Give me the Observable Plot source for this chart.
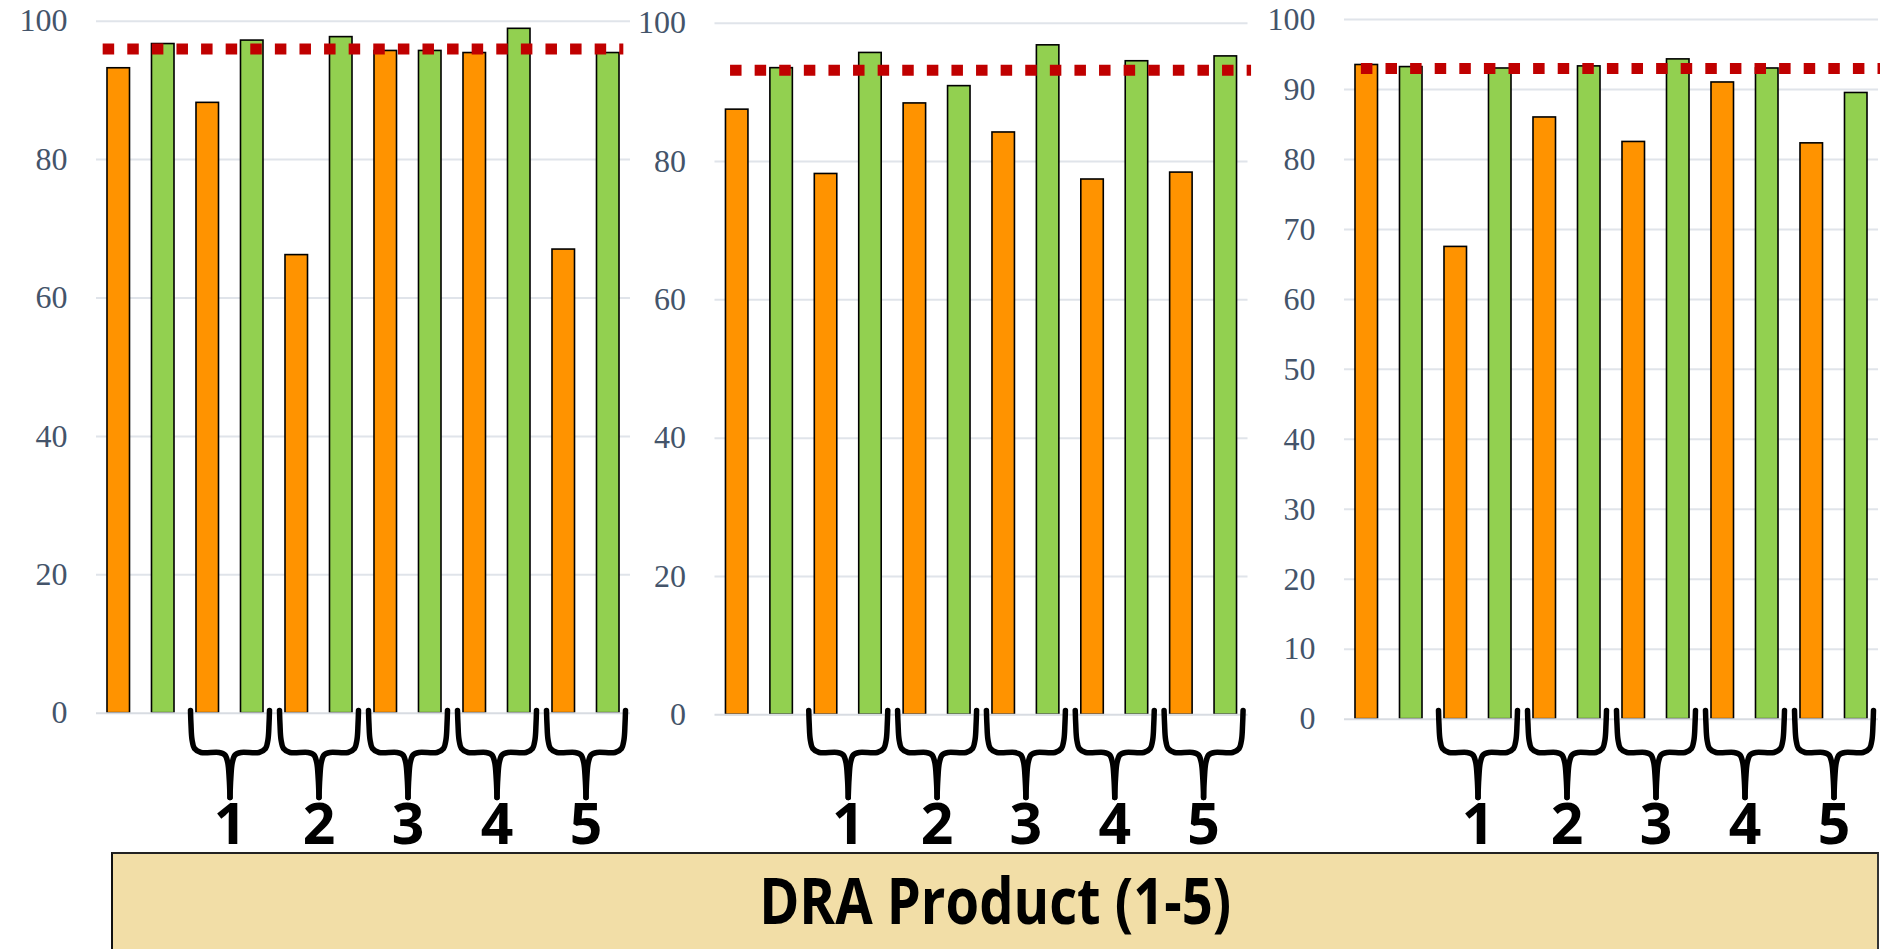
<!DOCTYPE html>
<html><head><meta charset="utf-8">
<script src="https://cdn.jsdelivr.net/npm/d3@7"></script>
<script src="https://cdn.jsdelivr.net/npm/@observablehq/plot@0.6"></script>
<style>
html,body{margin:0;padding:0;background:#fff;overflow:hidden}
#wrap{position:relative;width:1880px;height:949px}
.panel{position:absolute;top:0}
.panel svg{overflow:visible;display:block}
#caption{position:absolute;left:111px;top:852px;width:1768px;height:100px;background:#F2DEA7;border-top:2px solid #222;border-left:2px solid #111;border-right:2px solid #333;box-sizing:border-box;text-align:center}
#captext{font-family:"Open Sans";font-weight:700;font-size:64px;line-height:64px;color:#000;display:inline-block;white-space:nowrap;position:relative;top:14px;transform-origin:50% 50%}
</style></head><body>
<div id="wrap">
  <div id="p1" class="panel"></div>
  <div id="p2" class="panel"></div>
  <div id="p3" class="panel"></div>
  <div id="caption"><span id="captext">DRA Product (1-5)</span></div>
</div>
<script>
// ---- data ----
const pairLabels = ["", "1", "2", "3", "4", "5"];   // first pair has no product label
const products = ["1", "2", "3", "4", "5"];
const seriesNames = ["Series A", "Series B"];
const seriesColors = ["#FF9300", "#92D050"];

const orange1 = [93.2, 88.2, 66.2, 95.7, 95.4, 67.0];
const green1  = [96.7, 97.2, 97.7, 95.7, 98.9, 95.4];
const orange2 = [87.5, 78.2, 88.4, 84.2, 77.4, 78.4];
const green2  = [93.5, 95.7, 90.9, 96.8, 94.5, 95.2];
const orange3 = [93.5, 67.5, 86.0, 82.5, 91.0, 82.3];
const green3  = [93.2, 93.0, 93.3, 94.3, 93.0, 89.5];
const thresholds = [96.0, 93.2, 93.0];

const ticks1 = [0, 20, 40, 60, 80, 100];
const ticks2 = [0, 20, 40, 60, 80, 100];
const ticks3 = [0, 10, 20, 30, 40, 50, 60, 70, 80, 90, 100];

// ---- layout (pixels) ----
const H = 852;
const layouts = [
  {id: "p1", left: 0,    width: 640, mL: 96,   mR: 10,   top: 20.7, zero: 712.7, ticks: ticks1, o: orange1, g: green1, thr: thresholds[0], rule: [-0.35, 11.35]},
  {id: "p2", left: 620,  width: 640, mL: 94.5, mR: 12.5, top: 22.7, zero: 714.3, ticks: ticks2, o: orange2, g: green2, thr: thresholds[1], rule: [-0.15, 11.58]},
  {id: "p3", left: 1240, width: 640, mL: 104,  mR: 2,    top: 19.0, zero: 718.7, ticks: ticks3, o: orange3, g: green3, thr: thresholds[2], rule: [-0.12, 11.55]}
];
// brace shape: [dx from pair centre (left half), absolute page y]
const braceHalf = [[-39.5, 710], [-39, 724], [-38, 739], [-35.5, 748], [-29, 752], [-11, 752], [-5, 754.5], [-2.3, 762], [-0.8, 778], [0, 797]];
const numberY = 825;
const halfBar = 0.253;

for (const L of layouts) {
  const pxPerUnit = (L.zero - L.top) / 100;
  const pxPerSlot = (L.width - L.mL - L.mR) / 12;
  const toY = py => (L.zero - py) / pxPerUnit;

  const bars = [];
  pairLabels.forEach((lab, k) => {
    bars.push({series: seriesNames[0], idx: 2 * k,     value: L.o[k]});
    bars.push({series: seriesNames[1], idx: 2 * k + 1, value: L.g[k]});
  });
  const braces = [];
  const nums = [];
  products.forEach((p, j) => {
    const c = 2 * (j + 1) + 0.5;
    for (const side of [-1, 1]) {
      for (const [dx, py] of braceHalf) {
        braces.push({id: p + "_" + side, x: c + (side === -1 ? dx : -dx) / pxPerSlot, y: toY(py)});
      }
    }
    nums.push({label: p, x: c, y: toY(numberY)});
  });

  const marks = [
    Plot.ruleY(L.ticks.filter(t => t > 0), {stroke: "#E0E4EA", strokeWidth: 2}),
    Plot.rectY(bars, {x1: d => d.idx - halfBar, x2: d => d.idx + halfBar, y1: 0, y2: "value", fill: "series", stroke: "#000", strokeWidth: 1.6}),
    Plot.ruleY([0], {stroke: "#D8DCE2", strokeWidth: 2}),
    Plot.ruleY([{y: L.thr, a: L.rule[0], b: L.rule[1]}], {y: "y", x1: "a", x2: "b", stroke: "#C00000", strokeWidth: 11, strokeDasharray: "11.5 13.1"}),
    Plot.line(braces, {x: "x", y: "y", z: "id", stroke: "#000", strokeWidth: 5.5, curve: "catmull-rom", strokeLinecap: "round", strokeLinejoin: "round"}),
    Plot.text(nums, {x: "x", y: "y", text: "label", fontFamily: "Open Sans", fontWeight: 700, fontSize: 57, fill: "#000"})
  ];
  const useAxisMark = typeof Plot.axisY === "function";
  if (useAxisMark) {
    marks.push(Plot.axisY({ticks: L.ticks, tickSize: 0, tickPadding: 29, fontSize: 32, fontFamily: "Liberation Serif", color: "#44546A", label: null}));
  }
  const chart = Plot.plot({
    width: L.width,
    height: H,
    marginLeft: L.mL,
    marginRight: L.mR,
    marginTop: L.top,
    marginBottom: H - L.zero,
    x: {type: "linear", domain: [-0.5, 11.5], axis: null},
    y: useAxisMark ? {domain: [0, 100]} : {domain: [0, 100], ticks: L.ticks, tickSize: 0, tickPadding: 29, label: null},
    color: {type: "ordinal", domain: seriesNames, range: seriesColors},
    style: {background: "transparent", overflow: "visible", fontFamily: "Liberation Serif", fontSize: "32px", color: "#44546A"},
    marks
  });
  const el = document.getElementById(L.id);
  el.style.left = L.left + "px";
  el.style.width = L.width + "px";
  el.appendChild(chart);
}

// caption width fitting
const span = document.getElementById("captext");
const cv = document.createElement("canvas").getContext("2d");
cv.font = '700 64px "Open Sans"';
const w = cv.measureText(span.textContent).width;
span.style.transform = "scaleX(" + (472 / w) + ")";
</script>
</body></html>
